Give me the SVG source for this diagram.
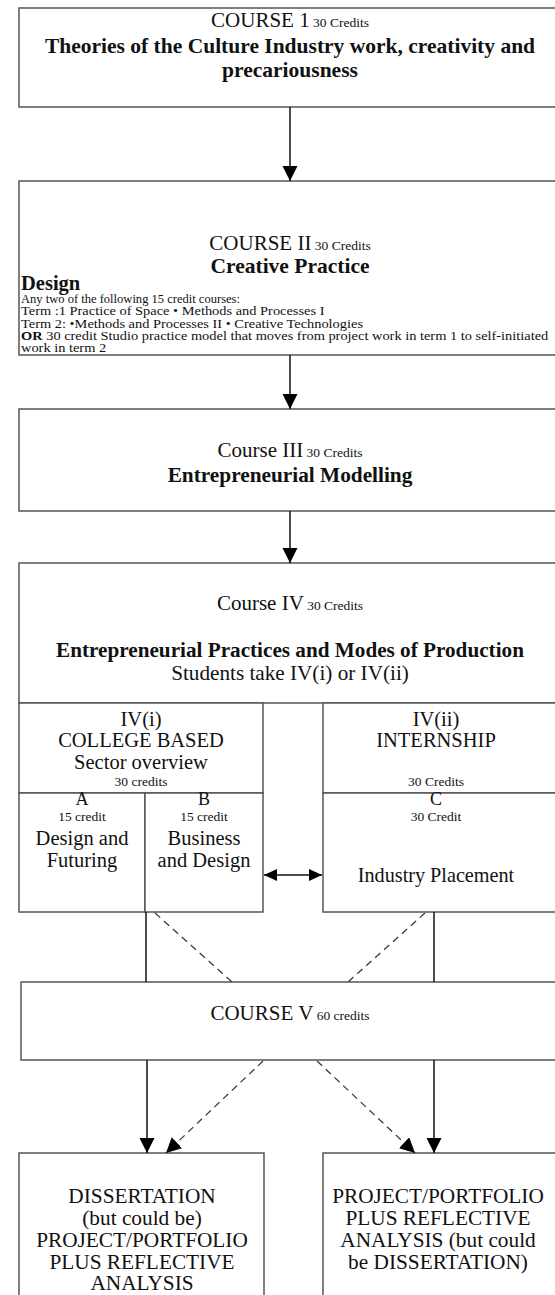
<svg xmlns="http://www.w3.org/2000/svg" width="555" height="1295" viewBox="0 0 555 1295">
<style>
.box{fill:#fff;stroke:#555;stroke-width:1.5}
.t{font-family:"Liberation Serif","Times New Roman",serif;fill:#111;text-anchor:middle}
.l{font-family:"Liberation Serif","Times New Roman",serif;fill:#111;font-size:12px}
.b{font-weight:bold}
.h{font-size:21px}
.s{font-size:13.5px}
.o{font-size:21.3px}
.c{stroke:#111;stroke-width:1.5;fill:none}
.d{stroke:#333;stroke-width:1.2;fill:none;stroke-dasharray:7,5}
</style>
<defs>
<marker id="ah" markerUnits="userSpaceOnUse" markerWidth="16" markerHeight="16" refX="15" refY="7.5" orient="auto">
<path d="M0,0 L15,7.5 L0,15 Z" fill="#000"/>
</marker>
<marker id="ahs" markerUnits="userSpaceOnUse" markerWidth="16" markerHeight="16" refX="13" refY="6" orient="auto-start-reverse">
<path d="M0,0 L13,6 L0,12 Z" fill="#000"/>
</marker>
</defs>
<rect width="555" height="1295" fill="#fff"/>

<g id="course1">
<rect class="box" x="19" y="8" width="545" height="99"/>
<text class="t" x="290" y="27"><tspan class="h">COURSE 1</tspan><tspan class="s"> 30 Credits</tspan></text>
<text class="t b" x="290" y="53" font-size="21.5">Theories of the Culture Industry work, creativity and</text>
<text class="t b" x="290" y="77" font-size="21.5">precariousness</text>
</g>

<g id="course2">
<rect class="box" x="19" y="181" width="545" height="174"/>
<text class="t" x="290" y="250"><tspan class="h">COURSE II</tspan><tspan class="s"> 30 Credits</tspan></text>
<text class="t b" x="290" y="273" font-size="21.5">Creative Practice</text>
<text class="l b" x="21" y="290" style="font-size:20.5px">Design</text>
<text class="l" transform="translate(21,303) scale(1.045,1)">Any two of the following 15 credit courses:</text>
<text class="l" transform="translate(21,315.3) scale(1.2,1)">Term :1 Practice of Space • Methods and Processes I</text>
<text class="l" transform="translate(21,327.6) scale(1.2,1)">Term 2: •Methods and Processes II • Creative Technologies</text>
<text class="l" transform="translate(21,339.9) scale(1.2,1)"><tspan font-weight="bold">OR</tspan> 30 credit Studio practice model that moves from project work in term 1 to self-initiated</text>
<text class="l" transform="translate(21,352.2) scale(1.2,1)">work in term 2</text>
</g>

<g id="course3">
<rect class="box" x="19" y="409" width="545" height="102"/>
<text class="t" x="290" y="457"><tspan class="h">Course III</tspan><tspan class="s"> 30 Credits</tspan></text>
<text class="t b" x="290" y="482" font-size="21.3">Entrepreneurial Modelling</text>
</g>

<g id="course4">
<rect class="box" x="19" y="563" width="545" height="140"/>
<text class="t" x="290" y="610"><tspan class="h">Course IV</tspan><tspan class="s"> 30 Credits</tspan></text>
<text class="t b" x="290" y="657" font-size="21.2">Entrepreneurial Practices and Modes of Production</text>
<text class="t" x="290" y="680" font-size="21.2">Students take IV(i) or IV(ii)</text>
</g>

<g id="course4i">
<rect class="box" x="19" y="703" width="244" height="90"/>
<text class="t" x="141" y="726" font-size="20.5">IV(i)</text>
<text class="t" x="141" y="747" font-size="20.5">COLLEGE BASED</text>
<text class="t" x="141" y="769" font-size="20.5">Sector overview</text>
<text class="t s" x="141" y="786">30 credits</text>
</g>

<g id="courseA">
<rect class="box" x="19" y="793" width="126" height="119"/>
<text class="t" x="82" y="805" font-size="18">A</text>
<text class="t s" x="82" y="821">15 credit</text>
<text class="t" x="82" y="845" font-size="20.5">Design and</text>
<text class="t" x="82" y="867" font-size="20.5">Futuring</text>
</g>

<g id="courseB">
<rect class="box" x="145" y="793" width="118" height="119"/>
<text class="t" x="204" y="805" font-size="18">B</text>
<text class="t s" x="204" y="821">15 credit</text>
<text class="t" x="204" y="845" font-size="20.5">Business</text>
<text class="t" x="204" y="867" font-size="20.5">and Design</text>
</g>

<g id="course4ii">
<rect class="box" x="323" y="703" width="241" height="90"/>
<text class="t" x="436" y="726" font-size="20.5">IV(ii)</text>
<text class="t" x="436" y="747" font-size="20.5">INTERNSHIP</text>
<text class="t s" x="436" y="786">30 Credits</text>
</g>

<g id="courseC">
<rect class="box" x="323" y="793" width="241" height="119"/>
<text class="t" x="436" y="805" font-size="18">C</text>
<text class="t s" x="436" y="821">30 Credit</text>
<text class="t" x="436" y="882" font-size="20.2">Industry Placement</text>
</g>

<g id="course5">
<rect class="box" x="21" y="982" width="543" height="78"/>
<text class="t" x="290" y="1020"><tspan class="h">COURSE V</tspan><tspan class="s"> 60 credits</tspan></text>
</g>

<g id="outcomeLeft">
<rect class="box" x="19" y="1153" width="245" height="150"/>
<text class="t o" x="142" y="1202.5">DISSERTATION</text>
<text class="t o" x="142" y="1224.5">(but could be)</text>
<text class="t o" x="142" y="1246.5">PROJECT/PORTFOLIO</text>
<text class="t o" x="142" y="1268.5">PLUS REFLECTIVE</text>
<text class="t o" x="142" y="1290.3">ANALYSIS</text>
</g>

<g id="outcomeRight">
<rect class="box" x="323" y="1153" width="241" height="150"/>
<text class="t o" x="438" y="1202.5">PROJECT/PORTFOLIO</text>
<text class="t o" x="438" y="1224.5">PLUS REFLECTIVE</text>
<text class="t o" x="438" y="1246.5">ANALYSIS (but could</text>
<text class="t o" x="438" y="1268.5">be DISSERTATION)</text>
</g>

<g id="connectors">
<line class="c" x1="290" y1="107" x2="290" y2="181" marker-end="url(#ah)"/>
<line class="c" x1="290" y1="355" x2="290" y2="409" marker-end="url(#ah)"/>
<line class="c" x1="290" y1="511" x2="290" y2="563" marker-end="url(#ah)"/>
<line class="c" x1="264" y1="875" x2="322" y2="875" marker-start="url(#ahs)" marker-end="url(#ahs)"/>
<line class="c" x1="146" y1="912" x2="146" y2="982"/>
<line class="c" x1="434" y1="912" x2="434" y2="982"/>
<line class="d" x1="155" y1="913" x2="232" y2="982"/>
<line class="d" x1="425" y1="913" x2="348" y2="982"/>
<line class="c" x1="147" y1="1060" x2="147" y2="1153" marker-end="url(#ah)"/>
<line class="d" x1="263" y1="1061" x2="166" y2="1153" marker-end="url(#ah)"/>
<line class="d" x1="317" y1="1061" x2="415" y2="1153" marker-end="url(#ah)"/>
<line class="c" x1="434" y1="1060" x2="434" y2="1153" marker-end="url(#ah)"/>
</g>
</svg>
